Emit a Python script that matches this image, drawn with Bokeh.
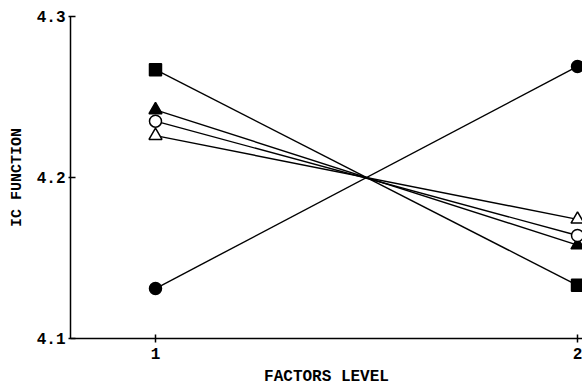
from bokeh.plotting import figure
from bokeh.models import FixedTicker, Range1d, PrintfTickFormatter
from bokeh.embed import file_html
from bokeh.resources import INLINE

levels = [1, 2]
sq_filled = [4.267, 4.133]
circ_filled = [4.131, 4.269]
tri_filled = [4.242, 4.158]
circ_open = [4.235, 4.164]
tri_open = [4.226, 4.174]
y_ticks = [4.1, 4.2, 4.3]
x_ticks = [1, 2]

FONT = "Liberation Mono"

p = figure(frame_width=512, frame_height=322, output_backend="svg", toolbar_location=None,
           x_range=Range1d(0.7986, 2.0118), y_range=Range1d(4.1, 4.3),
           min_border_left=70, min_border_right=0, min_border_top=16, min_border_bottom=53)
p.outline_line_color = None
p.grid.visible = False
p.background_fill_color = "white"
p.border_fill_color = "white"

series = [
    (sq_filled, "square", "black"),
    (circ_filled, "circle", "black"),
    (tri_filled, "triangle", "black"),
    (circ_open, "circle", "white"),
    (tri_open, "triangle", "white"),
]
for ys, marker, fill in series:
    p.line(levels, ys, line_color="black", line_width=1.4)
for ys, marker, fill in series:
    p.scatter(levels, ys, marker=marker, size=12 if marker != "triangle" else 13,
              fill_color=fill, line_color="black", line_width=1.5)

p.xaxis.ticker = FixedTicker(ticks=x_ticks)
p.yaxis.ticker = FixedTicker(ticks=y_ticks)
p.yaxis.formatter = PrintfTickFormatter(format="%.1f")
for ax in (p.xaxis, p.yaxis):
    ax.axis_line_color = "black"
    ax.axis_line_width = 1.5
    ax.major_tick_line_color = "black"
    ax.major_tick_line_width = 1.5
    ax.minor_tick_line_color = None
    ax.major_label_text_font = FONT
    ax.major_label_text_font_style = "bold"
    ax.major_label_text_font_size = "16px"
    ax.major_label_text_color = "black"
    ax.axis_label_text_font = FONT
    ax.axis_label_text_font_style = "bold"
    ax.axis_label_text_color = "black"
p.xaxis.axis_label_text_font_size = "16px"
p.yaxis.axis_label_text_font_size = "15px"
p.xaxis.major_tick_in = 4
p.xaxis.major_tick_out = 4
p.yaxis.major_tick_in = 5
p.yaxis.major_tick_out = 2
p.xaxis.axis_label = "FACTORS LEVEL"
p.yaxis.axis_label = "IC FUNCTION"
p.xaxis.major_label_standoff = 5
p.yaxis.major_label_standoff = 3
p.xaxis.axis_label_standoff = 6
p.yaxis.axis_label_standoff = 8

open("out.html", "w").write(file_html(p, INLINE))
